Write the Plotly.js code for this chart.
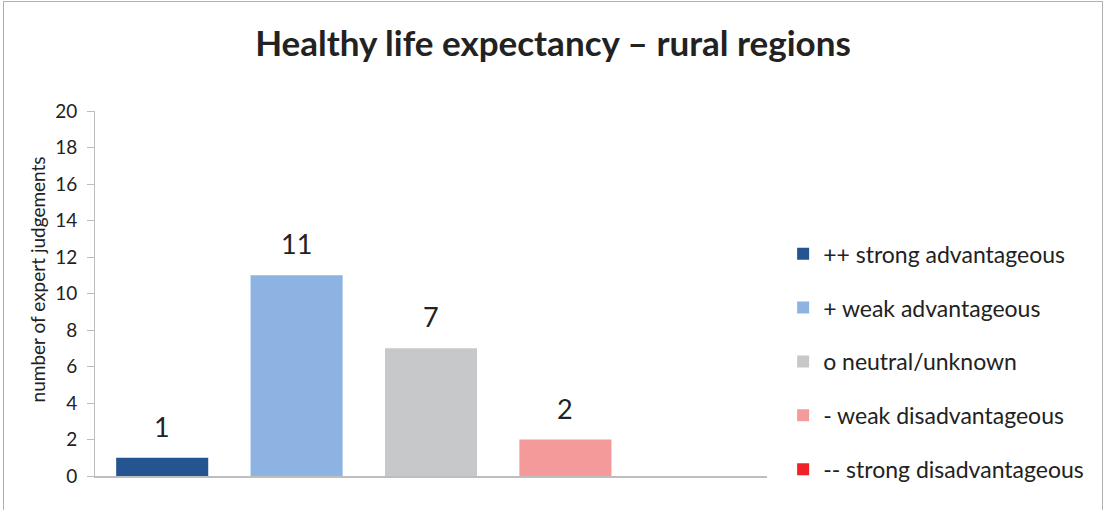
<!DOCTYPE html>
<html><head><meta charset="utf-8">
<script src="https://cdn.plot.ly/plotly-3.0.1.min.js"></script>
<style>html,body{margin:0;padding:0;background:#fff;}
#wrap{position:relative;width:1106px;height:510px;overflow:hidden;}
#frame{position:absolute;left:3px;top:1px;width:1100px;height:520px;border:1px solid #b0b0b0;box-sizing:border-box;pointer-events:none;}
</style></head>
<body><div id="wrap"><div id="chart" style="width:1106px;height:510px;"></div><div id="frame"></div></div>
<script>
const categories = ["++ strong advantageous", "+ weak advantageous", "o neutral/unknown", "- weak disadvantageous", "-- strong disadvantageous"];
const values = [1, 11, 7, 2, 0];
const colors = ["#255591", "#8DB3E2", "#C7C8CA", "#F59A9B", "#EE2228"];
const yTicks = [0, 2, 4, 6, 8, 10, 12, 14, 16, 18, 20];
const yTitle = "number of expert judgements";

const FONT = "Lato, 'Open Sans', sans-serif";
const traces = categories.map((c, i) => ({
  type: "bar", x: [c], y: [values[i]], name: c,
  marker: {color: colors[i]}, width: 0.685,
  legendgroup: "g" + i, hoverinfo: "x+y"
}));
const annotations = categories.map((c, i) => values[i] > 0 ? ({
  x: c, y: values[i], xref: "x", yref: "y", text: String(values[i]),
  showarrow: false, yanchor: "bottom", yshift: 13,
  font: {family: FONT, size: 27, color: "#222"}
}) : null).filter(a => a);
annotations.push({
  text: yTitle, xref: "paper", yref: "paper", x: -0.0856, y: 0.54, xanchor: "center", yanchor: "middle",
  textangle: -90, showarrow: false, font: {family: FONT, size: 19, color: "#222"}
});

const layout = {
  width: 1106, height: 510,
  margin: {l: 95, r: 339, t: 111, b: 34, autoexpand: false},
  paper_bgcolor: "#fff", plot_bgcolor: "#fff",
  title: {text: "<b>Healthy life expectancy – rural regions</b>", x: 0.5, xanchor: "center", y: 0.915, yanchor: "middle",
          font: {family: FONT, size: 35, color: "#222"}},
  barmode: "overlay",
  showlegend: true,
  legend: {x: 1.024, xanchor: "left", y: 0.668, yanchor: "top", traceorder: "grouped", tracegroupgap: 21,
           font: {family: FONT, size: 23, color: "#222"}, itemwidth: 30, bgcolor: "rgba(0,0,0,0)"},
  xaxis: {type: "category", categoryarray: categories, showticklabels: false, ticks: "",
          showline: true, linecolor: "#BDBDBD", linewidth: 2, showgrid: false, zeroline: false, fixedrange: true,
          range: [-0.5, 4.5]},
  yaxis: {range: [0, 20], tickvals: yTicks, ticktext: yTicks.map(String), ticks: "outside", ticklen: 7,
          tickcolor: "#BDBDBD", tickwidth: 1, showline: true, linecolor: "#BDBDBD", linewidth: 1,
          showgrid: false, zeroline: false, ticklabelstandoff: 6,
          tickfont: {family: FONT, size: 19, color: "#222"}},
  annotations: annotations
};
Plotly.newPlot("chart", traces, layout, {displayModeBar: false, staticPlot: true});
</script></body></html>
